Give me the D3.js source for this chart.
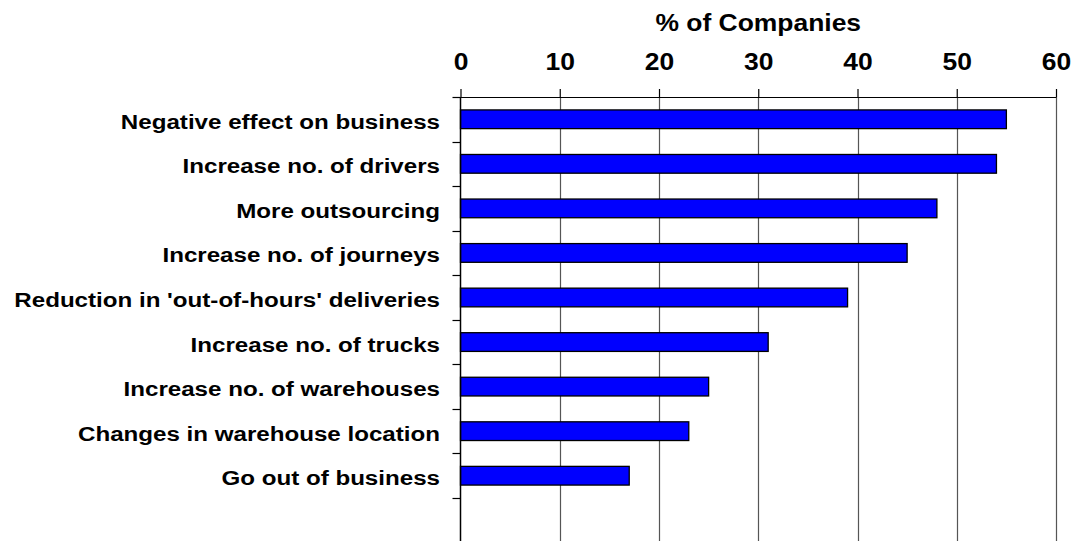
<!DOCTYPE html>
<html>
<head>
<meta charset="utf-8">
<script src="https://cdn.jsdelivr.net/npm/d3@7"></script>
<style>
  body { margin: 0; background: #fff; }
  svg { display: block; font-family: "Liberation Sans", Arial, sans-serif; }
</style>
</head>
<body>
<svg id="chart" width="1073" height="541"></svg>
<script>
// data
const categories = [
  "Negative effect on business",
  "Increase no. of drivers",
  "More outsourcing",
  "Increase no. of journeys",
  "Reduction in 'out-of-hours' deliveries",
  "Increase no. of trucks",
  "Increase no. of warehouses",
  "Changes in warehouse location",
  "Go out of business"
]
const values = [55, 54, 48, 45, 39, 31, 25, 23, 17]
const xTicks = [0, 10, 20, 30, 40, 50, 60]
const axisTitle = "% of Companies"

const svg = d3.select("#chart")
const W = 1073, H = 541
const plotLeft = 460.5, plotRight = 1056, plotTop = 97, plotBottom = 498
const stretch = 1.15 // the original text looks a little wide

const x = d3.scaleLinear().domain([0, 60]).range([plotLeft, plotRight])
const y = d3.scaleBand()
    .domain(categories)
    .range([plotTop, plotBottom])
    .paddingInner(0.58)
    .paddingOuter(0.29)

// vertical gridlines (run past the bottom of the frame)
svg.append("g")
    .selectAll("line")
    .data(xTicks.slice(1))
    .join("line")
    .attr("x1", d => Math.round(x(d)) + 0.5)
    .attr("x2", d => Math.round(x(d)) + 0.5)
    .attr("y1", plotTop)
    .attr("y2", H + 5)
    .attr("stroke", "#555")
    .attr("stroke-width", 1.2)

// bars
svg.append("g")
    .selectAll("rect")
    .data(values)
    .join("rect")
    .attr("x", x(0))
    .attr("y", (d, i) => y(categories[i]))
    .attr("width", d => x(d) - x(0))
    .attr("height", y.bandwidth())
    .attr("fill", "#0000ff")
    .attr("stroke", "#000")
    .attr("stroke-width", 1.3)

// top axis
const xAxis = svg.append("g")
    .attr("transform", `translate(0,${plotTop})`)
    .call(d3.axisTop(x).tickValues(xTicks).tickSize(8).tickPadding(19).tickSizeOuter(0))
xAxis.select(".domain").attr("stroke", "#000").attr("stroke-width", 1.2)
xAxis.selectAll(".tick line").attr("stroke", "#000").attr("stroke-width", 1.2)
xAxis.selectAll("text")
    .attr("font-size", 23)
    .attr("font-weight", "bold")
    .attr("font-family", "'Liberation Sans', Arial, sans-serif")
    .attr("fill", "#000")
    .attr("transform", `scale(${stretch},1)`)

svg.append("text")
    .attr("transform", `translate(${(plotLeft + plotRight) / 2},30.5) scale(${stretch},1)`)
    .attr("text-anchor", "middle")
    .attr("font-size", 23)
    .attr("font-weight", "bold")
    .text(axisTitle)

// left axis line + ticks between categories
const step = y.step()
const bounds = d3.range(categories.length + 2).map(i => plotTop + i * step)
svg.append("line")
    .attr("x1", x(0)).attr("x2", x(0))
    .attr("y1", plotTop).attr("y2", H + 5)
    .attr("stroke", "#000")
    .attr("stroke-width", 1.5)
svg.append("g")
    .selectAll("line")
    .data(bounds)
    .join("line")
    .attr("x1", x(0) - 8)
    .attr("x2", x(0))
    .attr("y1", d => Math.round(d) + 0.5)
    .attr("y2", d => Math.round(d) + 0.5)
    .attr("stroke", "#000")
    .attr("stroke-width", 1.2)

// category labels
svg.append("g")
    .selectAll("text")
    .data(categories)
    .join("text")
    .attr("transform", d => `translate(440,${y(d) + y.bandwidth() / 2 + 9.5}) scale(${stretch},1)`)
    .attr("text-anchor", "end")
    .attr("font-size", 21)
    .attr("font-weight", "bold")
    .attr("fill", "#000")
    .text(d => d)
</script>
</body>
</html>
